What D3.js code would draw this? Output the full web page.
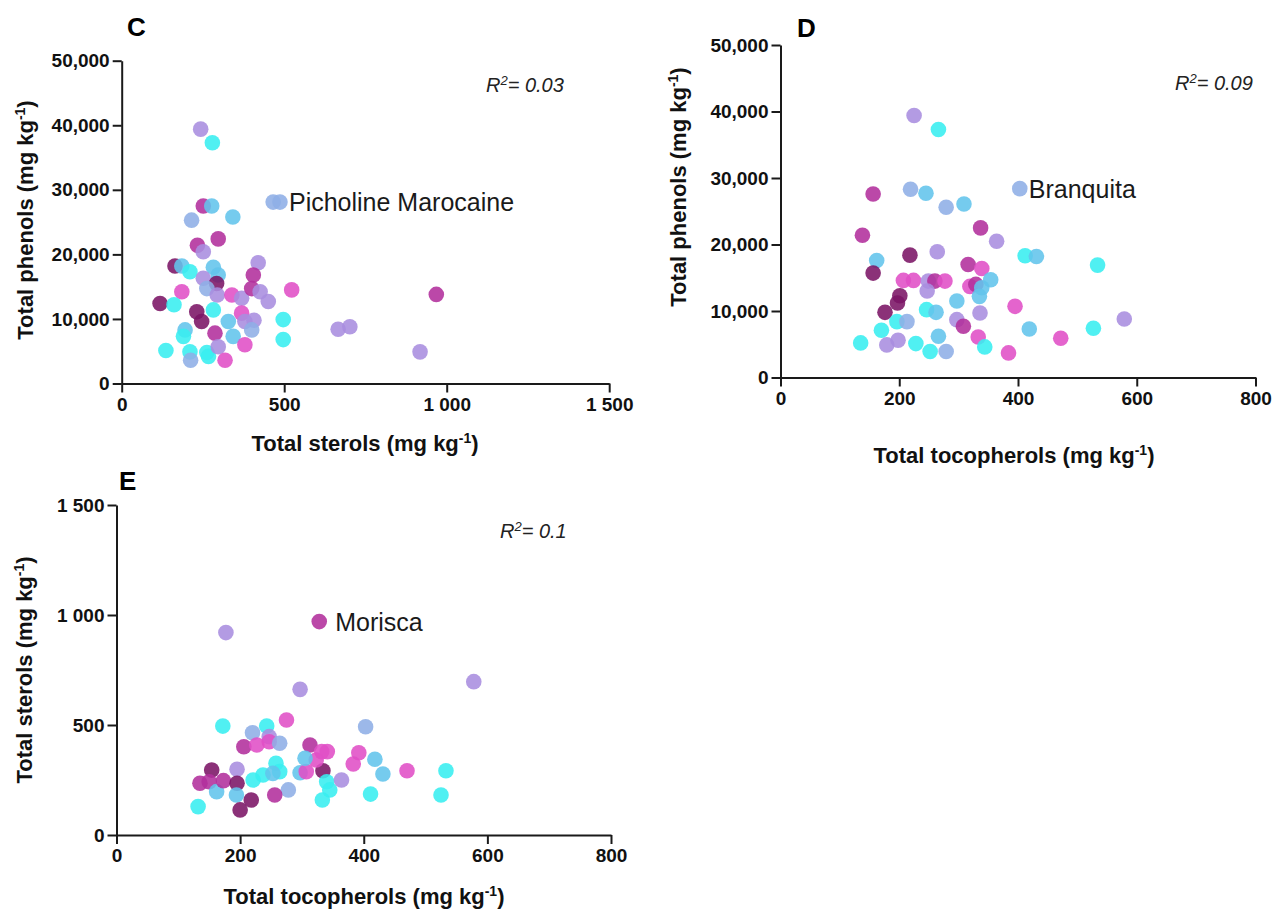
<!DOCTYPE html>
<html>
<head>
<meta charset="utf-8">
<script src="https://cdn.jsdelivr.net/npm/d3@7"></script>
<style>
  body { margin: 0; background: #fff; }
  svg { font-family: "Liberation Sans", Arial, sans-serif; }
</style>
</head>
<body>
<svg id="chart" width="1283" height="916"></svg>
<script>
// cultivar colour groups: 0 cyan, 1 sky, 2 periwinkle, 3 lavender, 4 orchid, 5 magenta, 6 plum
var groupColors = ["#38eef0", "#62c4ec", "#8eaee6", "#a98ddf", "#e04fc6", "#b22f9c", "#7b1565"];

// panel C: [total sterols, total phenols, group]
var cPoints = [
  [251,27500,5],[277,27500,1],[215,25300,2],[342,25800,1],[297,22400,5],[233,21400,5],[251,20400,3],
  [164,18200,6],[185,18200,1],[210,17300,0],[282,18000,1],[297,16800,1],[420,18700,3],[405,16800,5],
  [251,16300,3],[292,15500,6],[262,14700,2],[185,14200,4],[294,13700,3],[339,13700,4],[369,13200,3],
  [400,14700,5],[426,14200,3],[451,12700,3],[523,14500,4],[118,12400,6],[161,12200,0],[231,11100,6],
  [246,9600,6],[282,11400,0],[328,9600,1],[369,10900,4],[379,9600,3],[407,9800,3],[400,8300,2],
  [497,9900,0],[497,6800,0],[343,7300,1],[287,7800,5],[379,6000,4],[195,8300,1],[190,7300,0],
  [136,5100,0],[210,4900,0],[212,3600,2],[262,4800,0],[267,4200,0],[297,5700,3],[318,3600,4],
  [666,8400,3],[702,8800,3],[466,28100,2],[487,28100,2],[243,39400,3],[279,37300,0],[968,13800,5],
  [918,4900,3]
];

// panel D: [total tocopherols, total phenols, group]
var dPoints = [
  [225,39400,3],[266,37300,0],[403,28400,2],[156,27600,5],[219,28300,2],[245,27700,1],[279,25600,2],
  [309,26100,1],[138,21400,5],[337,22500,5],[364,20500,3],[264,18900,3],[218,18400,6],[162,17600,1],
  [156,15700,6],[412,18300,0],[431,18200,1],[534,16900,0],[316,17000,5],[339,16400,4],[354,14700,1],
  [207,14600,4],[224,14600,4],[249,14500,3],[260,14500,5],[277,14500,4],[319,13700,4],[329,14000,5],
  [339,13500,1],[247,13000,3],[201,12300,6],[197,11200,6],[176,9800,6],[297,11500,1],[335,12200,1],
  [246,10200,0],[262,9800,1],[196,8400,0],[213,8400,2],[336,9700,3],[297,8700,3],[308,7700,5],
  [395,10700,4],[419,7300,1],[472,5900,4],[527,7400,0],[170,7100,0],[135,5200,0],[179,4900,3],
  [198,5600,3],[228,5100,0],[252,3900,0],[266,6200,1],[279,3900,2],[333,6100,4],[344,4600,0],
  [384,3700,4],[579,8800,3]
];

// panel E: [total tocopherols, total sterols, group]
var ePoints = [
  [177,920,3],[328,970,5],[297,662,3],[172,495,0],[275,523,4],[243,495,0],[220,465,2],[403,492,2],
  [247,447,3],[247,424,4],[264,417,2],[206,401,5],[227,409,4],[313,409,5],[332,379,4],[341,379,4],
  [392,374,4],[383,323,4],[418,344,1],[431,277,1],[470,292,4],[533,292,0],[525,182,0],[411,186,0],
  [195,299,3],[154,295,6],[135,235,5],[150,242,5],[162,197,1],[173,247,5],[195,235,6],[194,182,1],
  [218,159,6],[200,114,6],[132,129,0],[221,250,0],[237,273,0],[258,326,0],[264,288,0],[253,280,1],
  [278,205,2],[256,182,5],[297,283,1],[307,288,4],[334,292,6],[323,341,4],[340,242,0],[345,205,0],
  [333,159,0],[364,250,3],[305,349,1],[578,697,3]
];

var phenolTicks = [0, 10000, 20000, 30000, 40000, 50000];
var sterolTicks = [0, 500, 1000, 1500];
var tocoTicks = [0, 200, 400, 600, 800];

var fmtComma = d3.format(",");
var fmtSpace = d => d3.format(",")(d).replace(",", " ");

var svg = d3.select("#chart");

function drawPanel(p) {
  var x = d3.scaleLinear().domain(p.xDomain).range([p.left, p.right]);
  var y = d3.scaleLinear().domain(p.yDomain).range([p.bottom, p.top]);
  var g = svg.append("g");

  g.selectAll("circle")
    .data(p.points)
    .enter()
    .append("circle")
    .attr("cx", d => x(d[0]))
    .attr("cy", d => y(d[1]))
    .attr("r", 7.8)
    .style("fill", d => groupColors[d[2]])
    .style("fill-opacity", 0.88);

  var xAxis = g.append("g")
    .attr("transform", "translate(0," + p.bottom + ")")
    .call(d3.axisBottom(x).tickValues(p.xTicks).tickFormat(p.xFmt).tickSize(9).tickPadding(5).tickSizeOuter(0));
  var yAxis = g.append("g")
    .attr("transform", "translate(" + p.left + ",0)")
    .call(d3.axisLeft(y).tickValues(p.yTicks).tickFormat(p.yFmt).tickSize(9).tickPadding(3).tickSizeOuter(0));

  [xAxis, yAxis].forEach(a => {
    a.selectAll("path, line").style("stroke", "#1a1a1a").style("stroke-width", 2);
    a.selectAll("text").style("font-size", "19px").style("font-weight", "bold").style("fill", "#111");
  });

  // panel letter
  g.append("text").attr("x", p.letterPos[0]).attr("y", p.letterPos[1])
    .style("font-size", "26px").style("font-weight", "bold").text(p.letter);

  // R squared
  var r2 = g.append("text").attr("x", p.r2Pos[0]).attr("y", p.r2Pos[1])
    .style("font-size", "20px").style("font-style", "italic").style("fill", "#222");
  r2.append("tspan").text("R");
  r2.append("tspan").attr("dy", -7).style("font-size", "13px").text("2");
  r2.append("tspan").attr("dy", 7).text("= " + p.r2);

  // labelled cultivar
  g.append("text")
    .attr("x", x(p.note[0]) + p.note[3])
    .attr("y", y(p.note[1]) + 9)
    .style("font-size", "25px").style("fill", "#1a1a1a")
    .text(p.note[2]);

  // axis titles
  function unitTitle(sel, label) {
    sel.append("tspan").text(label + " (mg kg");
    sel.append("tspan").attr("dy", -8).style("font-size", "14px").text("-1");
    sel.append("tspan").attr("dy", 8).text(")");
  }
  var xt = g.append("text")
    .attr("x", p.xTitlePos[0]).attr("y", p.xTitlePos[1])
    .attr("text-anchor", "middle")
    .style("font-size", "22px").style("font-weight", "bold").style("fill", "#111");
  unitTitle(xt, p.xTitle);
  var yt = g.append("text")
    .attr("transform", "translate(" + p.yTitlePos[0] + "," + p.yTitlePos[1] + ") rotate(-90)")
    .attr("text-anchor", "middle")
    .style("font-size", "22px").style("font-weight", "bold").style("fill", "#111");
  unitTitle(yt, p.yTitle);
}

drawPanel({
  points: cPoints, letter: "C", r2: "0.03",
  left: 121.7, right: 609.2, top: 60.7, bottom: 383.5,
  xDomain: [0, 1500], yDomain: [0, 50000],
  xTicks: sterolTicks, yTicks: phenolTicks, xFmt: fmtSpace, yFmt: fmtComma,
  xTitle: "Total sterols", yTitle: "Total phenols",
  letterPos: [127, 36], r2Pos: [486, 92],
  xTitlePos: [365, 451], yTitlePos: [33, 220],
  note: [487, 28100, "Picholine Marocaine", 9]
});

drawPanel({
  points: dPoints, letter: "D", r2: "0.09",
  left: 780.5, right: 1255.5, top: 45, bottom: 377.5,
  xDomain: [0, 800], yDomain: [0, 50000],
  xTicks: tocoTicks, yTicks: phenolTicks, xFmt: d3.format("d"), yFmt: fmtComma,
  xTitle: "Total tocopherols", yTitle: "Total phenols",
  letterPos: [797, 37], r2Pos: [1175, 90],
  xTitlePos: [1014, 463], yTitlePos: [686, 187],
  note: [403, 28400, "Branquita", 9]
});

drawPanel({
  points: ePoints, letter: "E", r2: "0.1",
  left: 116.5, right: 611, top: 505, bottom: 835,
  xDomain: [0, 800], yDomain: [0, 1500],
  xTicks: tocoTicks, yTicks: sterolTicks, xFmt: d3.format("d"), yFmt: fmtSpace,
  xTitle: "Total tocopherols", yTitle: "Total sterols",
  letterPos: [119, 490], r2Pos: [500, 538],
  xTitlePos: [364, 904], yTitlePos: [32, 670],
  note: [328, 970, "Morisca", 16]
});
</script>
</body>
</html>
